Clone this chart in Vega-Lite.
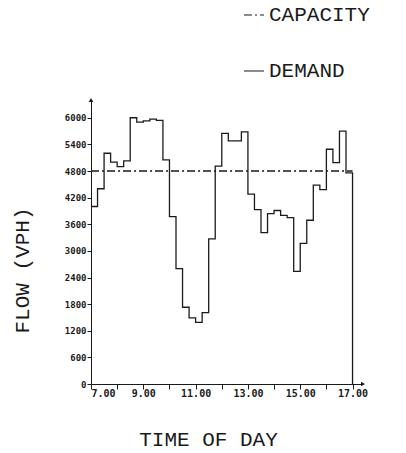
{
  "$schema": "https://vega.github.io/schema/vega-lite/v6.json",
  "width": 272,
  "height": 284,
  "autosize": "none",
  "padding": {"left": 91, "top": 100, "right": 43, "bottom": 69},
  "background": "white",
  "config": {"view": {"stroke": null}, "font": "Liberation Mono"},
  "datasets": {
    "flow": [
      {"series": "CAPACITY", "i": 0, "t": 7, "v": 4800},
      {"series": "CAPACITY", "i": 1, "t": 17, "v": 4800},
      {"series": "DEMAND", "i": 0, "t": 7.0, "v": 4000},
      {"series": "DEMAND", "i": 1, "t": 7.25, "v": 4400},
      {"series": "DEMAND", "i": 2, "t": 7.5, "v": 5200},
      {"series": "DEMAND", "i": 3, "t": 7.75, "v": 5000},
      {"series": "DEMAND", "i": 4, "t": 8.0, "v": 4900},
      {"series": "DEMAND", "i": 5, "t": 8.25, "v": 5030},
      {"series": "DEMAND", "i": 6, "t": 8.5, "v": 6000},
      {"series": "DEMAND", "i": 7, "t": 8.75, "v": 5900},
      {"series": "DEMAND", "i": 8, "t": 9.0, "v": 5930},
      {"series": "DEMAND", "i": 9, "t": 9.25, "v": 5970},
      {"series": "DEMAND", "i": 10, "t": 9.5, "v": 5940},
      {"series": "DEMAND", "i": 11, "t": 9.75, "v": 5050},
      {"series": "DEMAND", "i": 12, "t": 10.0, "v": 3770},
      {"series": "DEMAND", "i": 13, "t": 10.25, "v": 2600},
      {"series": "DEMAND", "i": 14, "t": 10.5, "v": 1730},
      {"series": "DEMAND", "i": 15, "t": 10.75, "v": 1490},
      {"series": "DEMAND", "i": 16, "t": 11.0, "v": 1390},
      {"series": "DEMAND", "i": 17, "t": 11.25, "v": 1610},
      {"series": "DEMAND", "i": 18, "t": 11.5, "v": 3270},
      {"series": "DEMAND", "i": 19, "t": 11.75, "v": 4910},
      {"series": "DEMAND", "i": 20, "t": 12.0, "v": 5650},
      {"series": "DEMAND", "i": 21, "t": 12.25, "v": 5480},
      {"series": "DEMAND", "i": 22, "t": 12.5, "v": 5480},
      {"series": "DEMAND", "i": 23, "t": 12.75, "v": 5680},
      {"series": "DEMAND", "i": 24, "t": 13.0, "v": 4280},
      {"series": "DEMAND", "i": 25, "t": 13.25, "v": 3930},
      {"series": "DEMAND", "i": 26, "t": 13.5, "v": 3410},
      {"series": "DEMAND", "i": 27, "t": 13.75, "v": 3840},
      {"series": "DEMAND", "i": 28, "t": 14.0, "v": 3910},
      {"series": "DEMAND", "i": 29, "t": 14.25, "v": 3800},
      {"series": "DEMAND", "i": 30, "t": 14.5, "v": 3750},
      {"series": "DEMAND", "i": 31, "t": 14.75, "v": 2540},
      {"series": "DEMAND", "i": 32, "t": 15.0, "v": 3170},
      {"series": "DEMAND", "i": 33, "t": 15.25, "v": 3690},
      {"series": "DEMAND", "i": 34, "t": 15.5, "v": 4480},
      {"series": "DEMAND", "i": 35, "t": 15.75, "v": 4380},
      {"series": "DEMAND", "i": 36, "t": 16.0, "v": 5290},
      {"series": "DEMAND", "i": 37, "t": 16.25, "v": 4990},
      {"series": "DEMAND", "i": 38, "t": 16.5, "v": 5700},
      {"series": "DEMAND", "i": 39, "t": 16.75, "v": 4760},
      {"series": "DEMAND", "i": 40, "t": 17.0, "v": 4760},
      {"series": "DEMAND", "i": 41, "t": 17.0, "v": 0}
    ],
    "arrows": [
      {"t": 7, "v": 6400, "shape": "triangle-up"},
      {"t": 17.4, "v": 0, "shape": "triangle-right"}
    ]
  },
  "encoding": {
    "x": {
      "field": "t", "type": "quantitative",
      "scale": {"domain": [7, 17.4], "nice": false, "zero": false},
      "axis": {
        "values": [7, 8, 9, 10, 11, 12, 13, 14, 15, 16, 17],
        "labelExpr": "datum.value % 2 == 1 ? format(datum.value, '.2f') : ''",
        "labelOverlap": false,
        "grid": false, "tickSize": 5, "tickColor": "#1a1a1a", "domainColor": "#1a1a1a",
        "labelFont": "DejaVu Sans Mono", "labelFontWeight": "bold", "labelFontSize": 10,
        "labelColor": "#1a1a1a", "labelPadding": -1,
        "title": "TIME OF DAY", "titleFont": "Liberation Mono", "titleFontSize": 21,
        "titleFontWeight": "normal", "titleColor": "#1a1a1a",
        "titleY": 55, "titleX": 117, "titleBaseline": "middle", "titleAlign": "center"
      }
    },
    "y": {
      "field": "v", "type": "quantitative",
      "scale": {"domain": [0, 6400], "nice": false},
      "axis": {
        "values": [0, 600, 1200, 1800, 2400, 3000, 3600, 4200, 4800, 5400, 6000],
        "format": "d", "labelOverlap": false,
        "grid": false, "tickSize": 4, "tickColor": "#1a1a1a", "domainColor": "#1a1a1a",
        "labelFont": "DejaVu Sans Mono", "labelFontWeight": "bold", "labelFontSize": 9,
        "labelColor": "#1a1a1a", "labelPadding": 1,
        "title": "FLOW (VPH)", "titleFont": "Liberation Mono", "titleFontSize": 21,
        "titleFontWeight": "normal", "titleColor": "#1a1a1a",
        "titleX": -69, "titleY": 170, "titleAngle": -90, "titleBaseline": "middle", "titleAlign": "center"
      }
    }
  },
  "layer": [
    {
      "data": {"name": "flow"},
      "mark": {"type": "line", "interpolate": "step-after", "color": "#1a1a1a", "strokeWidth": 1.3},
      "encoding": {
        "strokeDash": {
          "field": "series", "type": "nominal",
          "scale": {"domain": ["CAPACITY", "DEMAND"], "range": [[8, 3, 2, 3], [1, 0]]},
          "legend": {
            "orient": "none", "legendX": 152, "legendY": -96, "title": null,
            "symbolType": "stroke", "symbolSize": 400, "symbolStrokeColor": "#1a1a1a",
            "symbolStrokeWidth": 1.2, "labelFont": "Liberation Mono", "labelFontSize": 21,
            "labelColor": "#1a1a1a", "rowPadding": 35, "labelOffset": 4
          }
        },
        "order": {"field": "i", "type": "quantitative"}
      }
    },
    {
      "data": {"name": "arrows"},
      "mark": {"type": "point", "filled": true, "color": "#1a1a1a", "size": 22, "opacity": 1},
      "encoding": {
        "shape": {"field": "shape", "type": "nominal", "scale": null, "legend": null}
      }
    }
  ]
}
